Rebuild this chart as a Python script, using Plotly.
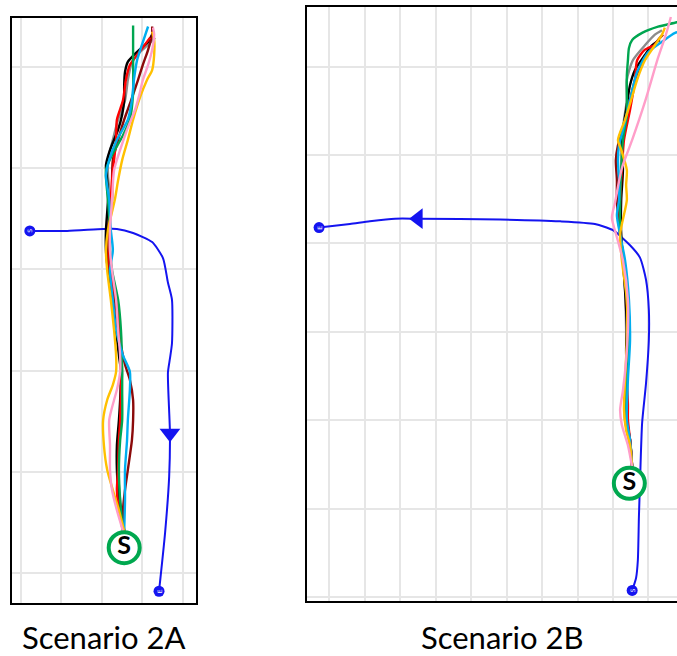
import plotly.graph_objects as go

# ---------------- Scenario 2A (left panel), grid units ----------------
A_route_x = [0.23, 1.15, 2.04, 2.38, 2.78, 3.25, 3.52, 3.64, 3.74, 3.74, 3.69, 3.64, 3.69, 3.67, 3.57, 3.42]
A_route_y = [3.38, 3.38, 3.40, 3.40, 3.36, 3.27, 3.11, 2.87, 2.70, 2.27, 2.12, 1.98, 1.38, 0.95, 0.40, -0.18]
A_arrow_idx = 12
A_start = (2.56, 0.25)

A_tracks = {
    "gray": (
        [2.56, 2.46, 2.41, 2.43, 2.46, 2.48, 2.51, 2.43, 2.36, 2.23, 2.16, 2.16, 2.21, 2.16, 2.16, 2.28, 2.41, 2.58, 2.65, 2.73, 2.88, 3.15, 3.32],
        [0.415, 0.72, 1.02, 1.31, 1.51, 1.81, 1.99, 2.40, 2.70, 2.99, 3.19, 3.39, 3.69, 3.93, 4.08, 4.28, 4.48, 4.67, 4.87, 5.02, 5.12, 5.22, 5.29]),
    "black": (
        [2.56, 2.48, 2.41, 2.38, 2.38, 2.43, 2.46, 2.48, 2.43, 2.36, 2.28, 2.16, 2.11, 2.11, 2.16, 2.14, 2.11, 2.21, 2.41, 2.51, 2.56, 2.56, 2.58, 2.65, 2.88, 3.15, 3.25],
        [0.415, 0.62, 0.82, 1.02, 1.26, 1.51, 1.71, 1.99, 2.15, 2.40, 2.70, 2.99, 3.19, 3.39, 3.69, 3.88, 4.03, 4.18, 4.38, 4.53, 4.67, 4.82, 4.95, 5.05, 5.15, 5.25, 5.32]),
    "maroon": (
        [2.56, 2.53, 2.58, 2.65, 2.75, 2.78, 2.78, 2.70, 2.58, 2.46, 2.33, 2.19, 2.16, 2.16, 2.26, 2.26, 2.28, 2.41, 2.56, 2.73, 2.90, 3.02, 3.15, 3.25, 3.25],
        [0.415, 0.62, 0.82, 1.02, 1.31, 1.51, 1.71, 1.91, 2.06, 2.30, 2.70, 2.99, 3.19, 3.39, 3.69, 3.88, 4.08, 4.28, 4.48, 4.67, 4.87, 5.02, 5.17, 5.32, 5.40]),
    "red": (
        [2.53, 2.43, 2.38, 2.41, 2.43, 2.46, 2.48, 2.48, 2.46, 2.36, 2.21, 2.19, 2.19, 2.23, 2.26, 2.31, 2.36, 2.38, 2.53, 2.60, 2.70, 2.88, 3.07, 3.20],
        [0.415, 0.62, 0.82, 1.02, 1.31, 1.51, 1.81, 1.99, 2.40, 2.70, 2.99, 3.19, 3.39, 3.69, 3.88, 4.08, 4.28, 4.48, 4.67, 4.87, 5.02, 5.12, 5.22, 5.29]),
    "green": (
        [2.53, 2.46, 2.43, 2.46, 2.51, 2.51, 2.51, 2.48, 2.41, 2.26, 2.21, 2.21, 2.16, 2.11, 2.26, 2.51, 2.70, 2.78, 2.78, 2.78],
        [0.415, 0.72, 1.02, 1.31, 1.51, 1.81, 1.99, 2.40, 2.70, 2.99, 3.19, 3.39, 3.69, 3.98, 4.13, 4.31, 4.48, 4.74, 5.07, 5.41]),
    "lightblue": (
        [2.56, 2.58, 2.58, 2.63, 2.65, 2.70, 2.70, 2.53, 2.36, 2.28, 2.21, 2.28, 2.23, 2.19, 2.11, 2.19, 2.38, 2.65, 2.75, 2.80, 2.88, 3.00, 3.15],
        [0.415, 0.72, 1.02, 1.31, 1.51, 1.81, 1.99, 2.15, 2.40, 2.70, 2.99, 3.19, 3.39, 3.69, 3.93, 4.08, 4.28, 4.48, 4.67, 4.87, 5.07, 5.22, 5.40]),
    "yellow": (
        [2.56, 2.43, 2.28, 2.14, 2.06, 2.04, 2.14, 2.28, 2.36, 2.36, 2.31, 2.23, 2.14, 2.11, 2.16, 2.33, 2.41, 2.51, 2.65, 2.78, 2.95, 3.12, 3.25, 3.30, 3.30, 3.25],
        [0.415, 0.62, 0.82, 1.02, 1.26, 1.51, 1.71, 1.86, 1.99, 2.15, 2.40, 2.70, 2.99, 3.19, 3.39, 3.69, 3.88, 4.08, 4.28, 4.48, 4.70, 4.87, 4.97, 5.12, 5.27, 5.35]),
    "pink": (
        [2.53, 2.38, 2.26, 2.21, 2.21, 2.19, 2.31, 2.38, 2.46, 2.46, 2.41, 2.36, 2.26, 2.21, 2.21, 2.26, 2.31, 2.46, 2.63, 2.83, 2.93, 3.02, 3.15, 3.25, 3.30, 3.27],
        [0.415, 0.62, 0.82, 1.02, 1.26, 1.51, 1.71, 1.81, 1.99, 2.15, 2.40, 2.70, 2.99, 3.19, 3.39, 3.69, 3.98, 4.18, 4.38, 4.58, 4.72, 4.87, 5.02, 5.17, 5.32, 5.39]),
}

# ---------------- Scenario 2B (right panel), grid units ----------------
B_route_x = [8.54, 8.65, 8.70, 8.73, 8.76, 8.82, 8.93, 9.01, 9.01, 8.93, 8.76, 8.48, 8.00, 7.49, 6.51, 4.82, 2.51, 1.86, 1.15, 0.59, -0.28]
B_route_y = [-0.92, -0.78, -0.58, -0.09, 0.29, 0.97, 1.42, 1.91, 2.25, 2.59, 2.84, 2.98, 3.15, 3.22, 3.25, 3.27, 3.28, 3.28, 3.25, 3.22, 3.18]
B_arrow_idx = 16
B_start = (8.46, 0.29)

B_tracks = {
    "gray": (
        [8.54, 8.48, 8.34, 8.37, 8.37, 8.34, 8.28, 8.23, 8.17, 8.23, 8.25, 8.31, 8.39, 8.39, 8.56, 8.90, 9.18, 9.38],
        [0.47, 0.78, 1.01, 1.46, 2.02, 2.47, 2.81, 3.10, 3.49, 3.83, 4.17, 4.40, 4.62, 4.85, 5.07, 5.24, 5.36, 5.41]),
    "black": (
        [8.54, 8.48, 8.37, 8.39, 8.39, 8.37, 8.39, 8.37, 8.34, 8.28, 8.23, 8.23, 8.28, 8.25, 8.37, 8.48, 8.62, 8.90, 9.10, 9.32],
        [0.47, 0.78, 1.01, 1.23, 1.46, 1.80, 2.02, 2.25, 2.47, 2.81, 3.10, 3.49, 3.83, 4.17, 4.51, 4.79, 4.96, 5.13, 5.24, 5.30]),
    "maroon": (
        [8.54, 8.48, 8.39, 8.39, 8.42, 8.39, 8.31, 8.20, 8.11, 8.11, 8.08, 8.14, 8.37, 8.48, 8.62, 8.85, 9.10, 9.27, 9.41],
        [0.47, 0.78, 1.01, 1.46, 1.91, 2.36, 2.81, 3.10, 3.49, 3.72, 3.94, 4.11, 4.40, 4.62, 4.85, 5.07, 5.21, 5.30, 5.36]),
    "red": (
        [8.54, 8.48, 8.42, 8.42, 8.39, 8.42, 8.39, 8.31, 8.20, 8.20, 8.25, 8.31, 8.48, 8.62, 8.68, 8.90, 9.18],
        [0.47, 0.78, 1.01, 1.18, 1.46, 1.91, 2.36, 2.81, 3.10, 3.49, 3.83, 4.17, 4.51, 4.85, 5.07, 5.19, 5.24]),
    "green": (
        [8.54, 8.45, 8.34, 8.39, 8.45, 8.39, 8.31, 8.20, 8.20, 8.23, 8.28, 8.39, 8.39, 8.39, 8.42, 8.45, 8.54, 8.82, 9.27, 9.80, 10.03],
        [0.47, 0.78, 1.01, 1.46, 1.91, 2.36, 2.81, 3.10, 3.49, 3.83, 4.17, 4.45, 4.68, 4.90, 5.07, 5.21, 5.30, 5.38, 5.45, 5.50, 5.53]),
    "lightblue": (
        [8.54, 8.48, 8.39, 8.42, 8.48, 8.45, 8.34, 8.20, 8.11, 8.17, 8.17, 8.14, 8.17, 8.28, 8.48, 8.68, 8.99, 9.38, 9.75, 10.03],
        [0.47, 0.78, 1.01, 1.46, 1.91, 2.36, 2.81, 3.10, 3.32, 3.49, 3.72, 3.94, 4.11, 4.28, 4.62, 4.94, 5.16, 5.28, 5.38, 5.40]),
    "yellow": (
        [8.54, 8.48, 8.37, 8.31, 8.34, 8.39, 8.39, 8.25, 8.20, 8.39, 8.37, 8.39, 8.23, 8.14, 8.34, 8.51, 8.68, 8.90, 9.18, 9.38, 9.46],
        [0.47, 0.72, 0.89, 1.12, 1.46, 1.91, 2.36, 2.81, 3.10, 3.49, 3.66, 3.83, 4.06, 4.17, 4.40, 4.62, 4.85, 5.07, 5.24, 5.36, 5.44]),
    "pink": (
        [8.54, 8.42, 8.25, 8.20, 8.28, 8.37, 8.42, 8.42, 8.28, 8.11, 7.97, 8.06, 8.25, 8.54, 8.90, 9.27, 9.49, 9.63],
        [0.47, 0.72, 0.95, 1.12, 1.34, 1.68, 2.02, 2.36, 2.81, 3.07, 3.29, 3.47, 3.85, 4.17, 4.60, 5.10, 5.36, 5.56]),
}

COLORS = {
    "gray": "#8c8c8c", "black": "#000000", "maroon": "#8b0a0a", "red": "#ff0000",
    "green": "#00a650", "lightblue": "#00aeef", "yellow": "#ffc000", "pink": "#ff9ec9",
}
ROUTE_COLOR = "#1414f0"
RING_COLOR = "#00a84f"

fig = go.Figure()


def add_panel(xa, ya, route_x, route_y, arrow_idx, arrow_symbol, tracks, start,
              start_label, end_label):
    # planned route
    fig.add_trace(go.Scatter(x=route_x, y=route_y, mode="lines", xaxis=xa, yaxis=ya,
                             line=dict(color=ROUTE_COLOR, width=2, shape="spline", smoothing=0.6),
                             hoverinfo="skip"))
    # recorded trajectories
    for name, (tx, ty) in tracks.items():
        fig.add_trace(go.Scatter(x=tx, y=ty, mode="lines", xaxis=xa, yaxis=ya,
                                 line=dict(color=COLORS[name], width=2.4, shape="spline", smoothing=0.7),
                                 hoverinfo="skip"))
    # direction arrow on the route
    fig.add_trace(go.Scatter(x=[route_x[arrow_idx]], y=[route_y[arrow_idx]], mode="markers",
                             xaxis=xa, yaxis=ya,
                             marker=dict(symbol=arrow_symbol, size=18, color=ROUTE_COLOR,
                                         line=dict(width=0)),
                             hoverinfo="skip"))
    # route end points
    ends_x = [route_x[0], route_x[-1]]
    ends_y = [route_y[0], route_y[-1]]
    fig.add_trace(go.Scatter(x=ends_x, y=ends_y, mode="markers", xaxis=xa, yaxis=ya,
                             marker=dict(size=11, color=ROUTE_COLOR, line=dict(width=0)),
                             hoverinfo="skip"))
    for ex, ey, lab in zip(ends_x, ends_y, [start_label, end_label]):
        fig.add_annotation(x=ex, y=ey, xref=xa, yref=ya.replace("axis", ""), text=lab,
                           showarrow=False, textangle=-90,
                           font=dict(family="DejaVu Sans", size=6, color="white"))
    # start marker "S"
    fig.add_trace(go.Scatter(x=[start[0]], y=[start[1]], mode="markers+text", xaxis=xa, yaxis=ya,
                             marker=dict(size=31, color="white", line=dict(color=RING_COLOR, width=4)),
                             text=["S"], textposition="middle center",
                             textfont=dict(family="Lato", size=25, color="black", weight="bold"),
                             hoverinfo="skip"))


add_panel("x", "y", A_route_x, A_route_y, A_arrow_idx, "triangle-down", A_tracks, A_start, "S", "E")
add_panel("x2", "y2", B_route_x, B_route_y, B_arrow_idx, "triangle-left", B_tracks, B_start, "S", "E")

W, H = 677, 656
grid = dict(showgrid=True, gridcolor="#e6e6e6", gridwidth=1.5, zeroline=False,
            showticklabels=False, ticks="", tick0=0, dtick=1, fixedrange=True,
            showline=True, linecolor="black", linewidth=2)

fig.update_layout(
    width=W, height=H, margin=dict(l=0, r=0, t=0, b=0),
    paper_bgcolor="white", plot_bgcolor="white", showlegend=False,
    xaxis=dict(grid, domain=[12 / W, 196 / W], range=[-0.21, 4.333], anchor="y", mirror=True),
    yaxis=dict(grid, domain=[(H - 603) / H, (H - 18) / H], range=[-0.296, 5.484], anchor="x", mirror=True),
    xaxis2=dict(grid, domain=[307 / W, 1.0], range=[-0.62, 9.803], anchor="y2", mirror=True),
    yaxis2=dict(grid, domain=[(H - 601) / H, (H - 6.5) / H], range=[-1.04, 5.678], anchor="x2", mirror=False),
)

for label, cx in [("Scenario 2A", 104), ("Scenario 2B", 502)]:
    fig.add_annotation(x=cx / W, y=(H - 637) / H, xref="paper", yref="paper", text=label,
                       showarrow=False, xanchor="center", yanchor="middle",
                       font=dict(family="Lato", size=31, color="black"))

fig.write_html("out.html")
